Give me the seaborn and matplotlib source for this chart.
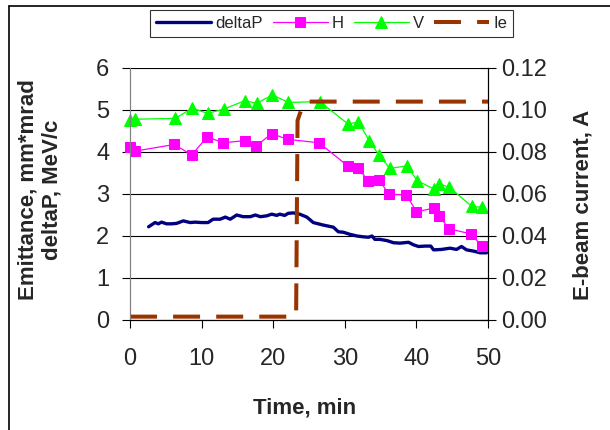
import matplotlib
matplotlib.use("Agg")
import matplotlib.pyplot as plt
from matplotlib.lines import Line2D
import seaborn as sns

# emittance H / V, mm*mrad
t_hv = [0.0, 0.7, 6.2, 8.6, 10.8, 13.0, 16.0, 17.6, 19.8, 22.0, 26.4,
        30.4, 31.8, 33.3, 34.8, 36.2, 38.6, 40.0, 42.4, 43.1, 44.6, 47.6, 49.1]
h_vals = [4.13, 4.02, 4.18, 3.93, 4.36, 4.22, 4.27, 4.14, 4.44, 4.30, 4.22,
          3.67, 3.63, 3.31, 3.33, 2.99, 2.98, 2.58, 2.66, 2.48, 2.17, 2.05, 1.77]
t_v = [0.0, 0.7, 6.3, 8.7, 10.85, 13.1, 16.0, 17.7, 19.9, 22.1, 26.5,
       30.5, 31.9, 33.4, 34.8, 36.3, 38.7, 40.1, 42.4, 43.2, 44.6, 47.7, 49.2]
v_vals = [4.76, 4.78, 4.80, 5.04, 4.92, 5.02, 5.22, 5.16, 5.36, 5.18, 5.20,
          4.66, 4.72, 4.27, 3.92, 3.61, 3.67, 3.32, 3.12, 3.24, 3.16, 2.71, 2.68]

# deltaP, MeV/c
t_dp = [2.6, 3.5, 3.95, 4.4, 5.1, 5.8, 6.5, 7.45, 8.4, 9.1, 10.0, 10.9, 11.6,
        12.6, 13.3, 14.0, 14.9, 15.8, 16.8, 17.5, 18.2, 19.1, 19.8, 20.5, 20.9,
        21.6, 22.1, 22.8, 23.7, 24.7, 25.6, 27.0, 28.4, 29.1, 29.8, 30.7, 31.7,
        32.6, 33.3, 33.8, 34.2, 34.9, 35.9, 36.8, 37.7, 38.9, 39.6, 40.3, 41.2,
        42.0, 42.4, 43.5, 44.7, 45.6, 46.3, 47.0, 48.0, 48.9, 49.8]
dp_vals = [2.22, 2.32, 2.29, 2.33, 2.29, 2.29, 2.30, 2.36, 2.32, 2.33, 2.32, 2.32, 2.40,
           2.40, 2.45, 2.40, 2.50, 2.46, 2.46, 2.50, 2.46, 2.48, 2.52, 2.49, 2.52,
           2.49, 2.54, 2.55, 2.52, 2.45, 2.32, 2.26, 2.21, 2.10, 2.09, 2.04, 2.00,
           1.98, 1.97, 2.00, 1.92, 1.92, 1.89, 1.84, 1.83, 1.85, 1.79, 1.75, 1.76,
           1.76, 1.67, 1.68, 1.71, 1.68, 1.75, 1.67, 1.64, 1.60, 1.60]

# e-beam current, A
t_ie = [0.0, 23.2, 23.4, 24.3, 50.0]
ie_vals = [0.0016, 0.0016, 0.095, 0.104, 0.104]

sns.set_style("white")
plt.rcParams["font.family"] = ["Liberation Sans", "DejaVu Sans"]

fig = plt.figure(figsize=(6.1, 4.3), dpi=100)
ax = fig.add_axes([130/610, 1-320/430, 358/610, 252/430])
ax2 = ax.twinx()

sns.lineplot(x=t_dp, y=dp_vals, ax=ax, color="#000080", linewidth=2.4,
             estimator=None, sort=False, label="deltaP")
sns.lineplot(x=t_hv, y=h_vals, ax=ax, color="#FF00FF", linewidth=0.9, marker="s",
             markersize=7.5, markeredgecolor="#FF00FF", estimator=None, sort=False,
             label="H", clip_on=False)
sns.lineplot(x=t_v, y=v_vals, ax=ax, color="#00FF00", linewidth=0.9, marker="^",
             markersize=8.5, markeredgecolor="#00FF00", estimator=None, sort=False,
             label="V", clip_on=False)
sns.lineplot(x=t_ie, y=ie_vals, ax=ax2, color="#993300", linewidth=2.9,
             linestyle=(0, (6.7, 4.0)), estimator=None, sort=False, label="Ie")

ax.set_xlim(0, 50)
ax.set_ylim(0, 6)
ax2.set_ylim(0, 0.12)
ax.set_xticks(range(0, 51, 10))
ax.set_yticks(range(0, 7))
ax2.set_yticks([0, 0.02, 0.04, 0.06, 0.08, 0.10, 0.12])
ax2.set_yticklabels([f"{v:.2f}" for v in ax2.get_yticks()])

ax.yaxis.grid(True, color="black", linewidth=0.8)
ax.set_axisbelow(True)

for a in (ax, ax2):
    a.spines["top"].set_visible(False)
    a.spines["bottom"].set_color("black")
    a.spines["left"].set_color("#808080")
    a.spines["right"].set_color("black")
    for s in a.spines.values():
        s.set_linewidth(0.8)

ax.tick_params(axis="y", direction="out", length=6, width=0.8, color="black",
               labelsize=17, pad=9)
ax.tick_params(axis="x", direction="out", length=6, width=0.8, color="black",
               labelsize=17, pad=14, bottom=True)
ax2.tick_params(axis="y", direction="inout", length=11, width=0.8, color="black",
                labelsize=17, pad=4)

lab = dict(fontsize=16, fontweight="bold")
ax.set_xlabel("Time, min", **lab)
ax.set_ylabel("Emittance, mm*mrad\ndeltaP, MeV/c", **lab)
ax2.set_ylabel("E-beam current, A", **lab)
ax.xaxis.set_label_coords(0.489, -0.349)
ax.xaxis.label.set_va("center")
ax.yaxis.set_label_coords(-0.251, 0.516)
ax.yaxis.label.set_va("center")
ax2.yaxis.set_label_coords(1.265, 0.456)
ax2.yaxis.label.set_va("center")
ax2.yaxis.label.set_rotation(90)

h1, l1 = ax.get_legend_handles_labels()
h2, l2 = ax2.get_legend_handles_labels()
for a in (ax, ax2):
    if a.get_legend() is not None:
        a.get_legend().remove()
leg = fig.legend(h1 + h2, l1 + l2, loc="upper left", bbox_to_anchor=(150/610, 1-10/430),
                 ncol=4, fontsize=12, frameon=True, fancybox=False, edgecolor="black",
                 handlelength=3.3, handletextpad=0.25, columnspacing=0.6,
                 borderpad=0.35, borderaxespad=0)
leg.get_frame().set_linewidth(0.8)

# chart area border (left and top)
fig.add_artist(Line2D([9/610, 9/610], [0, 1-6/430], color="black", linewidth=1.2))
fig.add_artist(Line2D([9/610, 1], [1-6/430, 1-6/430], color="black", linewidth=1.2))

fig.savefig("out.png", dpi=100)
